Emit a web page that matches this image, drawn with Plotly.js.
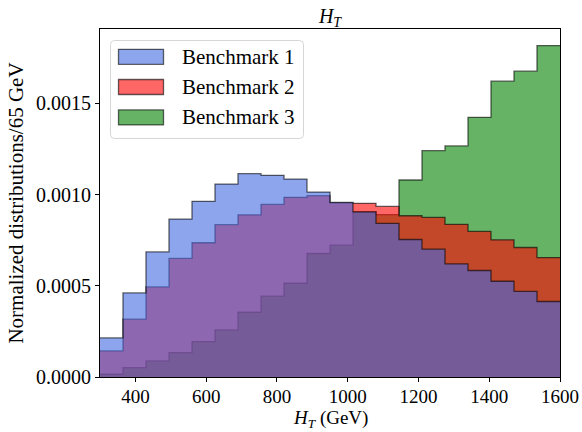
<!DOCTYPE html>
<html>
<head>
<meta charset="utf-8">
<script src="https://cdn.plot.ly/plotly-3.0.1.min.js"></script>
<style>
  html, body { margin: 0; padding: 0; background: #ffffff; }
  #chart { width: 582px; height: 432px; }
</style>
</head>
<body>
<div id="chart"></div>
<script>
// ---- data ----
const binEdges = [300, 365, 430, 495, 560, 625, 690, 755, 820, 885, 950,
                  1015, 1080, 1145, 1210, 1275, 1340, 1405, 1470, 1535, 1600];
const seriesNames = ["Benchmark 1", "Benchmark 2", "Benchmark 3"];
const bench1 = [0.000214, 0.000461, 0.000686, 0.000866, 0.000963, 0.001058, 0.001115,
                0.001106, 0.001085, 0.001014, 0.000957, 0.000905, 0.000842, 0.000754,
                0.000701, 0.000620, 0.000584, 0.000525, 0.000469, 0.000414];
const bench2 = [0.000143, 0.000317, 0.000494, 0.000650, 0.000736, 0.000835, 0.000889,
                0.000946, 0.000985, 0.000994, 0.000955, 0.000952, 0.000935, 0.000884,
                0.000875, 0.000837, 0.000798, 0.000752, 0.000710, 0.000655];
const bench3 = [0.000015, 0.000051, 0.000088, 0.000134, 0.000194, 0.000258, 0.000355,
                0.000443, 0.000514, 0.000677, 0.000723, 0.000905, 0.000890, 0.001080,
                0.001241, 0.001267, 0.001424, 0.001622, 0.001677, 0.001817];
const xTicks = [400, 600, 800, 1000, 1200, 1400, 1600];
const yTicks = [0, 0.0005, 0.0010, 0.0015];
const xTitle = "<i>H</i><sub><i>T</i></sub> (GeV)";
const yTitle = "Normalized distributions/65 GeV";
const chartTitle = "<i>H</i><sub><i>T</i></sub>";

// ---- styles ----
const fills = ["rgba(65,105,225,0.6)", "rgba(255,0,0,0.6)", "rgba(0,128,0,0.6)"];
const edgeColor = "rgba(0,0,0,0.6)";
const FONT = "'Liberation Serif', 'DejaVu Serif', serif";

function stepTrace(vals, i) {
  return {
    type: "scatter",
    mode: "lines",
    x: binEdges,
    y: vals.concat([vals[vals.length - 1]]),
    line: { shape: "hv", color: edgeColor, width: 1.3 },
    fill: "tozeroy",
    fillcolor: fills[i],
    name: seriesNames[i],
    showlegend: false,
    hoverinfo: "skip"
  };
}

// draw order: green, red, blue (blue on top)
const data = [stepTrace(bench3, 2), stepTrace(bench2, 1), stepTrace(bench1, 0)];

// ---- custom legend (matplotlib-like) ----
const M = { l: 100, r: 22, t: 29, b: 55 };
const W = 582 - M.l - M.r, H = 432 - M.t - M.b;
const px = v => (v - M.l) / W;
const py = v => 1 - (v - M.t) / H;

function roundRect(x0, y0, x1, y1, r) {
  const rx = r / W, ry = r / H;
  const a = px(x0), b = px(x1), c = py(y0), d = py(y1);
  return `M${a + rx},${c} L${b - rx},${c} Q${b},${c} ${b},${c - ry} ` +
         `L${b},${d + ry} Q${b},${d} ${b - rx},${d} L${a + rx},${d} ` +
         `Q${a},${d} ${a},${d + ry} L${a},${c - ry} Q${a},${c} ${a + rx},${c} Z`;
}

const shapes = [{
  type: "path", xref: "paper", yref: "paper", layer: "above",
  path: roundRect(110.5, 40.5, 303.5, 138.5, 4),
  fillcolor: "rgba(255,255,255,0.8)",
  line: { color: "#d6d6d6", width: 1 }
}];
const annotations = [];
const rowCenters = [56.8, 87.0, 117.4];
for (let i = 0; i < 3; i++) {
  const cy = rowCenters[i];
  shapes.push({
    type: "rect", xref: "paper", yref: "paper", layer: "above",
    x0: px(118.5), x1: px(163.5), y0: py(cy - 7.5), y1: py(cy + 7.5),
    fillcolor: fills[i], line: { color: edgeColor, width: 1.3 }
  });
  annotations.push({
    xref: "paper", yref: "paper", x: px(180), y: py(cy),
    xanchor: "left", yanchor: "middle", showarrow: false,
    text: seriesNames[i], font: { family: FONT, size: 21, color: "#000" }
  });
}
// x-axis title placed below the tick labels
annotations.push({
  xref: "paper", yref: "paper", x: 0.5, y: py(432), yshift: 0, borderpad: 0,
  xanchor: "center", yanchor: "bottom", showarrow: false,
  text: xTitle, font: { family: FONT, size: 19, color: "#000" }
});

const layout = {
  width: 582, height: 432,
  margin: M,
  paper_bgcolor: "#ffffff", plot_bgcolor: "#ffffff",
  showlegend: false,
  title: {
    text: chartTitle,
    font: { family: FONT, size: 20, color: "#000" },
    x: 0.5, xanchor: "center", xref: "paper",
    y: 1, yref: "paper", yanchor: "bottom", pad: { b: 6 }
  },
  xaxis: {
    range: [300, 1600],
    tickmode: "array", tickvals: xTicks, ticktext: xTicks.map(String),
    ticks: "outside", ticklen: 4, tickwidth: 1, tickcolor: "#000",
    ticklabelstandoff: -2,
    showline: true, linecolor: "#000", linewidth: 1, mirror: true,
    showgrid: false, zeroline: false,
    tickfont: { family: FONT, size: 19, color: "#000" }
  },
  yaxis: {
    range: [0, 0.001908],
    tickmode: "array", tickvals: yTicks, ticktext: yTicks.map(v => v.toFixed(4)),
    ticks: "outside", ticklen: 4, tickwidth: 1, tickcolor: "#000",
    showline: true, linecolor: "#000", linewidth: 1, mirror: true,
    showgrid: false, zeroline: false,
    tickfont: { family: FONT, size: 20, color: "#000" },
    title: { text: yTitle, font: { family: FONT, size: 21, color: "#000" }, standoff: 6 }
  },
  shapes: shapes,
  annotations: annotations
};

Plotly.newPlot("chart", data, layout, { staticPlot: true, displayModeBar: false });
</script>
</body>
</html>
